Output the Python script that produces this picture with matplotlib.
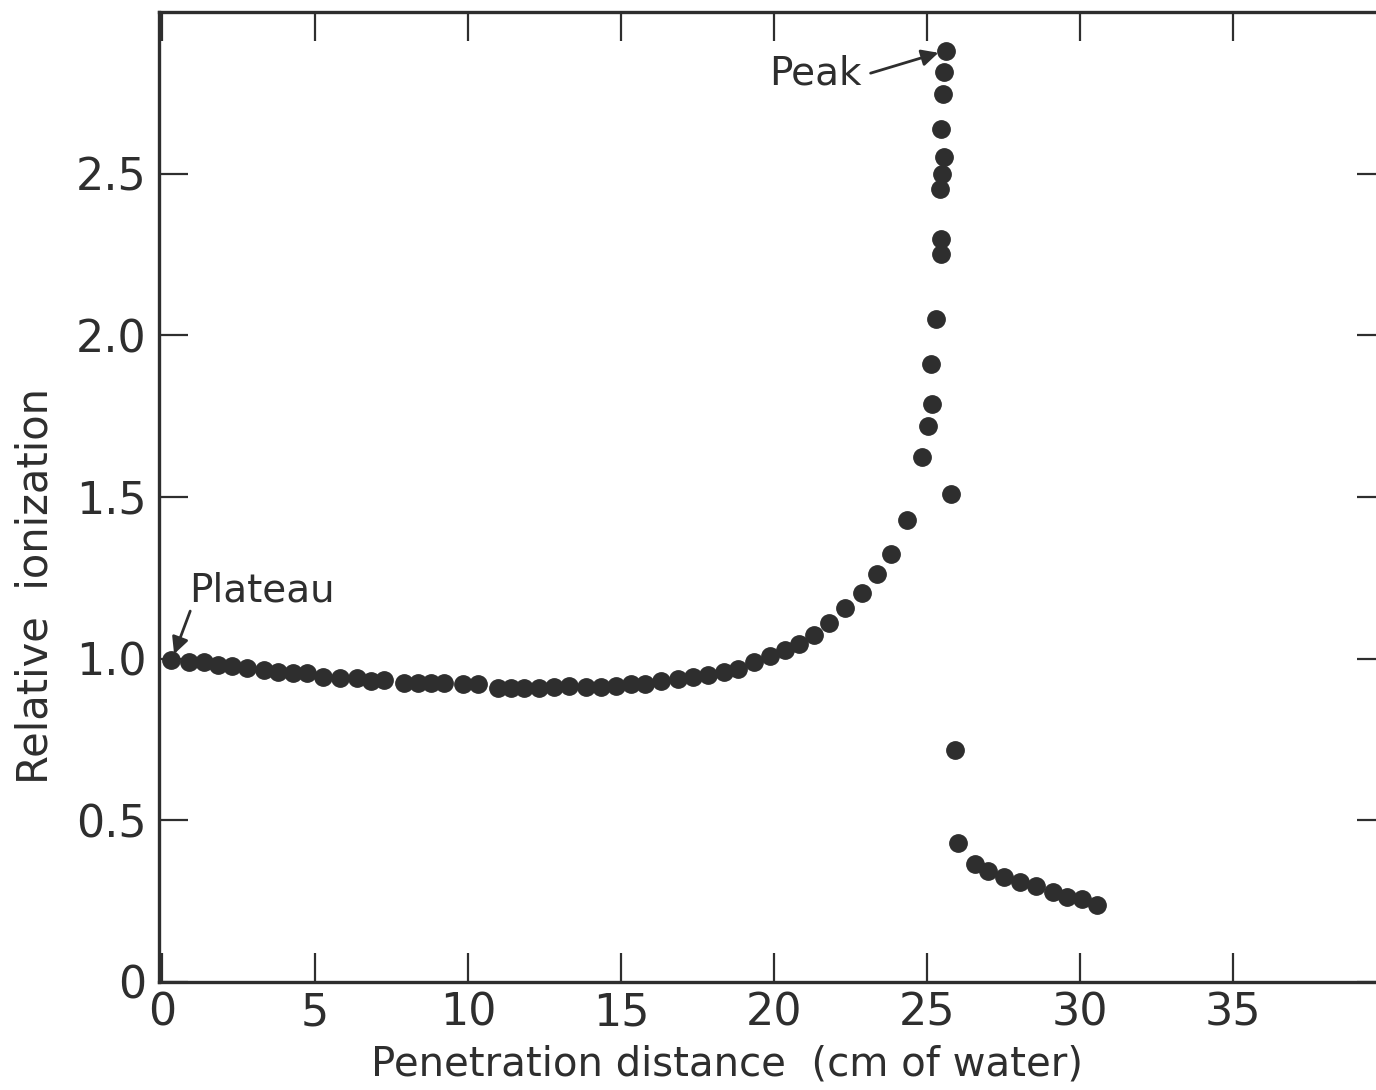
import numpy as np
import matplotlib
matplotlib.use("Agg")
import matplotlib.pyplot as plt

# depth in cm of water, relative ionization
depth = [0.29, 0.88, 1.37, 1.83, 2.29, 2.78, 3.33, 3.79, 4.28, 4.74,
         5.26, 5.82, 6.37, 6.83, 7.25, 7.91, 8.37, 8.79, 9.22, 9.84,
         10.33, 10.98, 11.41, 11.83, 12.32, 12.81, 13.30, 13.86, 14.35, 14.84,
         15.33, 15.78, 16.31, 16.86, 17.35, 17.84, 18.37, 18.82, 19.35, 19.87,
         20.36, 20.82, 21.31, 21.80, 22.32, 22.88, 23.37, 23.82, 24.35, 24.84,
         25.03, 25.16, 25.13, 25.29, 25.46, 25.46, 25.42, 25.49, 25.56, 25.46,
         25.52, 25.56, 25.62, 25.78, 25.92, 26.01, 26.57, 26.99, 27.52, 28.04,
         28.56, 29.12, 29.58, 30.07, 30.56]
ionization = [0.997, 0.991, 0.988, 0.981, 0.978, 0.972, 0.966, 0.960, 0.954, 0.957,
              0.944, 0.941, 0.941, 0.932, 0.935, 0.926, 0.926, 0.926, 0.926, 0.920,
              0.923, 0.910, 0.910, 0.910, 0.910, 0.913, 0.916, 0.913, 0.913, 0.916,
              0.920, 0.923, 0.932, 0.938, 0.944, 0.950, 0.960, 0.969, 0.991, 1.009,
              1.028, 1.046, 1.074, 1.111, 1.155, 1.204, 1.263, 1.325, 1.430, 1.622,
              1.718, 1.786, 1.910, 2.050, 2.251, 2.297, 2.452, 2.498, 2.551, 2.638,
              2.746, 2.814, 2.879, 1.508, 0.718, 0.430, 0.365, 0.344, 0.325, 0.310,
              0.297, 0.279, 0.263, 0.257, 0.238]

xticks = [0, 5, 10, 15, 20, 25, 30, 35]
xlabels = ["0", "5", "10", "15", "20", "25", "30", "35"]
yticks = [0, 0.5, 1.0, 1.5, 2.0, 2.5]
ylabels = ["0", "0.5", "1.0", "1.5", "2.0", "2.5"]

ink = "#2e2e2e"
plt.rcParams['font.family'] = ['DejaVu Sans']

fig = plt.figure(figsize=(13.76, 10.90), dpi=100)
ax = fig.add_axes([0.1156, 0.0991, 0.8916, 0.890])

ax.plot(depth, ionization, 'o', ms=12.5, color=ink, mec=ink)

ax.set_xlim(-0.1, 40)
ax.set_ylim(0, 3.0)
ax.set_xticks(xticks)
ax.set_xticklabels(xlabels)
ax.set_yticks(yticks)
ax.set_yticklabels(ylabels)
ax.tick_params(direction='in', length=21, width=1.6, color=ink,
               top=True, right=True, labelsize=32, labelcolor=ink, pad=9)
ax.tick_params(axis='x', pad=7)
for s in ax.spines.values():
    s.set_linewidth(2.4)
    s.set_color(ink)

# axis titles placed as in the original lettering (a bit left / low of centre)
fig.text(0.528, 0.023, "Penetration distance  (cm of water)", fontsize=29,
         color=ink, ha='center', va='center')
fig.text(0.026, 0.462, "Relative  ionization", fontsize=30, color=ink,
         ha='center', va='center', rotation=90)

ax.text(0.88, 1.21, "Plateau", fontsize=28, color=ink, va='center', ha='left')
ax.annotate("", xy=(0.36, 1.006), xytext=(0.95, 1.155),
            arrowprops=dict(arrowstyle='-|>', lw=2, color=ink, mutation_scale=25))
ax.text(19.84, 2.808, "Peak", fontsize=28, color=ink, va='center', ha='left')
ax.annotate("", xy=(25.46, 2.876), xytext=(23.07, 2.808),
            arrowprops=dict(arrowstyle='-|>', lw=2, color=ink, mutation_scale=25))

fig.savefig("out.png", dpi=100)
